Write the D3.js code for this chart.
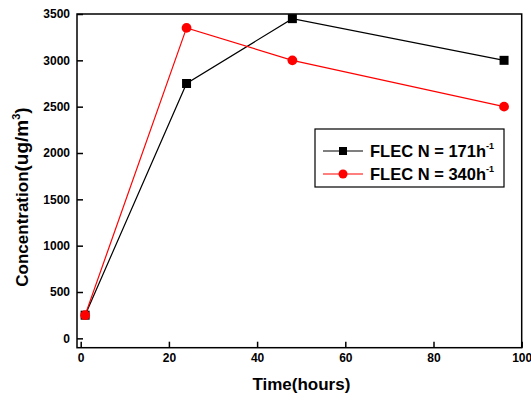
<!DOCTYPE html>
<html>
<head>
<meta charset="utf-8">
<script src="https://cdn.jsdelivr.net/npm/d3@7"></script>
<style>
  body { margin: 0; background: #fff; }
  svg { display: block; font-family: "Liberation Sans", Arial, sans-serif; }
  .tick text { font-weight: bold; font-size: 12px; fill: #000; }
</style>
</head>
<body>
<script>
// chart data
const hours = [1, 24, 48, 96];
const flec171 = [250, 2750, 3450, 3000];
const flec340 = [250, 3350, 3000, 2500];
const seriesNames = ["FLEC N = 171h", "FLEC N = 340h"];
const xTicks = [0, 20, 40, 60, 80, 100];
const yTicks = [0, 500, 1000, 1500, 2000, 2500, 3000, 3500];

const width = 531;
const height = 400;
const plotLeft = 77, plotRight = 521.7, plotTop = 14, plotBottom = 347.7;

var svg, x_scale, y_scale;

function generateScale() {
    x_scale = d3.scaleLinear().domain([-0.84, 100]).range([plotLeft, plotRight]);
    y_scale = d3.scaleLinear().domain([-101, 3500]).range([plotBottom, plotTop]);
}

function generateAxis() {
    // ticks point into the plot, like the origin chart
    const x_axis = d3.axisBottom(x_scale).tickValues(xTicks).tickFormat(d3.format("d"))
        .tickSizeInner(-6).tickSizeOuter(0).tickPadding(6);
    svg.append("g")
        .attr("transform", "translate(0," + plotBottom + ")")
        .call(x_axis)
        .call(g => g.select(".domain").remove());

    const y_axis = d3.axisLeft(y_scale).tickValues(yTicks).tickFormat(d3.format("d"))
        .tickSizeInner(-6).tickSizeOuter(0).tickPadding(7);
    svg.append("g")
        .attr("transform", "translate(" + plotLeft + ",0)")
        .call(y_axis)
        .call(g => g.select(".domain").remove());

    svg.selectAll(".tick line").attr("stroke", "#000").attr("stroke-width", 1.5);

    // frame
    svg.append("rect")
        .attr("x", plotLeft).attr("y", plotTop)
        .attr("width", plotRight - plotLeft).attr("height", plotBottom - plotTop)
        .attr("fill", "none").attr("stroke", "#000").attr("stroke-width", 1.5);
}

function generateLabels() {
    svg.append("text")
        .attr("x", (plotLeft + plotRight) / 2 + 2)
        .attr("y", 390)
        .attr("text-anchor", "middle")
        .style("font-weight", "bold").style("font-size", "17px")
        .text("Time(hours)");

    const yl = svg.append("text")
        .attr("transform", "translate(28,197) rotate(-90)")
        .attr("text-anchor", "middle")
        .style("font-weight", "bold").style("font-size", "17px");
    yl.append("tspan").text("Concentration");
    yl.append("tspan").style("font-size", "19px").text("(ug/m");
    yl.append("tspan").attr("dy", -8).style("font-size", "11px").text("3");
    yl.append("tspan").attr("dy", 8).style("font-size", "19px").text(")");
}

function drawSeries(values, color, shape) {
    const pts = hours.map((h, i) => [h, values[i]]);
    svg.append("path")
        .datum(pts)
        .attr("fill", "none")
        .attr("stroke", color)
        .attr("stroke-width", 1.2)
        .attr("d", d3.line().x(d => x_scale(d[0])).y(d => y_scale(d[1])));
    svg.append("g").selectAll("path")
        .data(pts)
        .enter()
        .append("path")
        .attr("transform", d => "translate(" + x_scale(d[0]) + "," + y_scale(d[1]) + ")")
        .attr("d", d3.symbol().type(shape).size(shape === d3.symbolSquare ? 81 : 75))
        .attr("fill", color);
}

function generateLegend() {
    const lg = svg.append("g");
    lg.append("rect")
        .attr("x", 315).attr("y", 129).attr("width", 189).attr("height", 58)
        .attr("fill", "#fff").attr("stroke", "#000").attr("stroke-width", 1.2);
    const rows = [
        { name: seriesNames[0], color: "#000", shape: d3.symbolSquare, y: 151 },
        { name: seriesNames[1], color: "#f00", shape: d3.symbolCircle, y: 174 }
    ];
    rows.forEach(r => {
        lg.append("line")
            .attr("x1", 323).attr("x2", 363).attr("y1", r.y).attr("y2", r.y)
            .attr("stroke", r.color).attr("stroke-width", 1.2);
        lg.append("path")
            .attr("transform", "translate(343," + r.y + ")")
            .attr("d", d3.symbol().type(r.shape).size(64))
            .attr("fill", r.color);
        const t = lg.append("text")
            .attr("x", 370).attr("y", r.y + 6)
            .style("font-weight", "bold").style("font-size", "16.5px");
        t.append("tspan").text(r.name);
        t.append("tspan").attr("dy", -8).style("font-size", "9px").text("-1");
    });
}

document.addEventListener('DOMContentLoaded', function () {
    svg = d3.select("body").append("svg")
        .attr("width", width).attr("height", height);
    generateScale();
    generateAxis();
    drawSeries(flec171, "#000", d3.symbolSquare);
    drawSeries(flec340, "#f00", d3.symbolCircle);
    generateLabels();
    generateLegend();
});
</script>
</body>
</html>
